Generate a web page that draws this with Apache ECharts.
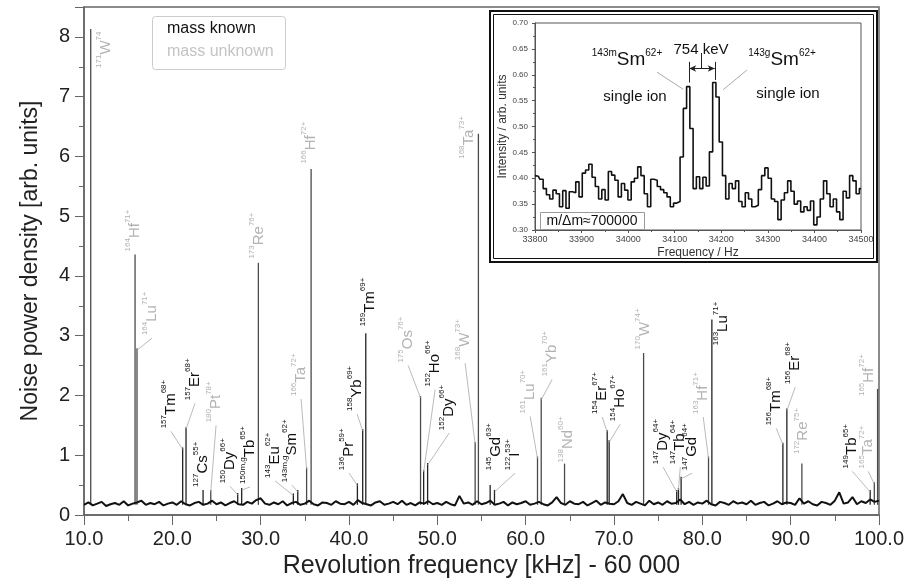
<!DOCTYPE html>
<html lang="en">
<head>
<meta charset="utf-8">
<title>Revolution frequency spectrum</title>
<script src="https://cdn.jsdelivr.net/npm/echarts@6/dist/echarts.min.js"></script>
<style>
  html, body { margin: 0; padding: 0; background: #fff; }
  #main { width: 908px; height: 584px; }
</style>
</head>
<body>
<div id="main"></div>
<script>
var chart = echarts.init(document.getElementById('main'));
var FONT = 'Liberation Sans, Arial, sans-serif';

// noise floor, one reading every 0.5 kHz from 10.0 to 100.0
var noiseStart = 10, noiseStep = 0.5;
var noise = [
  0.17,0.21,0.16,0.19,0.22,0.15,0.18,0.20,0.17,0.23,0.16,0.19,0.21,0.24,0.17,0.20,0.18,0.22,0.16,0.19,
  0.21,0.17,0.23,0.18,0.16,0.20,0.22,0.17,0.19,0.24,0.18,0.21,0.16,0.20,0.23,0.18,0.17,0.22,0.19,0.25,
  0.28,0.19,0.17,0.21,0.18,0.23,0.16,0.20,0.22,0.17,0.19,0.24,0.18,0.16,0.21,0.20,0.17,0.23,0.19,0.18,
  0.22,0.17,0.25,0.20,0.18,0.16,0.21,0.23,0.17,0.19,0.22,0.18,0.24,0.17,0.20,0.16,0.21,0.19,0.23,0.18,
  0.20,0.17,0.22,0.18,0.16,0.32,0.19,0.21,0.17,0.23,0.18,0.20,0.24,0.17,0.19,0.22,0.16,0.21,0.18,0.20,
  0.23,0.17,0.19,0.22,0.18,0.16,0.21,0.30,0.20,0.17,0.23,0.19,0.18,0.22,0.16,0.20,0.24,0.17,0.21,0.19,
  0.18,0.23,0.35,0.20,0.17,0.22,0.19,0.16,0.24,0.18,0.21,0.17,0.23,0.19,0.20,0.26,0.18,0.22,0.17,0.21,
  0.19,0.24,0.18,0.16,0.22,0.20,0.17,0.23,0.19,0.21,0.18,0.24,0.17,0.20,0.22,0.16,0.19,0.23,0.18,0.21,
  0.20,0.17,0.28,0.19,0.23,0.18,0.16,0.22,0.20,0.17,0.24,0.38,0.19,0.21,0.30,0.18,0.23,0.20,0.26,0.22,0.24
];

// identified lines
var peakFreq   = [10.76, 15.78, 16.00, 21.17, 21.55, 23.48, 24.35, 27.40, 27.85, 29.74, 33.70, 34.20, 35.20, 35.71,
                  40.95, 41.55, 41.90, 48.10, 48.45, 48.90, 54.28, 54.65, 55.98, 56.47, 61.34, 61.76, 64.40,
                  69.23, 69.45, 73.35, 77.10, 77.30, 77.60, 80.70, 81.08, 89.12, 89.57, 91.27, 99.00, 99.47, 99.84];
var peakHeight = [8.13, 4.36, 2.79, 1.13, 1.47, 0.42, 0.42, 0.37, 0.45, 4.22, 0.36, 0.42, 0.80, 5.79,
                  0.53, 1.44, 3.04, 1.99, 0.75, 0.87, 1.22, 6.38, 0.50, 0.42, 0.98, 1.96, 0.86,
                  1.42, 1.25, 2.71, 0.42, 0.45, 0.64, 0.98, 3.27, 1.21, 1.78, 0.86, 0.42, 0.55, 2.11];
var peakMass   = ['171','164','164','157','157','127','180','150','150m,g','173','143','143m,g','166','166',
                  '136','158','159','175','152','152','168','168','145','122','161','161','138',
                  '154','154','170','147','147','147','163','163','156','156','172','149','165','165'];
var peakElem   = ['W','Hf','Lu','Tm','Er','Cs','Pt','Dy','Tb','Re','Eu','Sm','Ta','Hf',
                  'Pr','Yb','Tm','Os','Ho','Dy','W','Ta','Gd','I','Lu','Yb','Nd',
                  'Er','Ho','W','Dy','Tb','Gd','Hf','Lu','Tm','Er','Re','Tb','Ta','Hf'];
var peakCharge = ['74','71+','71+','68+','68+','55+','78+','66+','65+','76+','62+','62+','72+','72+',
                  '59+','69+','69+','76+','66+','66+','73+','73+','63+','53+','70+','70+','60+',
                  '67+','67+','74+','64+','64+','64+','71+','71+','68+','68+','75+','65+','72+','72+'];
var peakKnown  = [0,0,0,1,1,1,0,1,1,0,1,1,0,0,
                  1,1,1,0,1,1,0,0,1,1,0,0,0,
                  1,1,0,1,1,1,0,1,1,1,0,1,0,0];

// label anchor (foot of the vertical text, data units) and leader flag
var labelAt = [
  [12.49,7.48,0],[15.78,4.41,0],[17.70,3.01,1],[19.85,1.45,1],[22.57,1.92,1],[23.48,0.47,0],[24.95,1.55,1],
  [26.53,0.53,1],[28.80,0.52,1],[29.74,4.29,0],[31.63,0.62,1],[33.55,0.55,1],[34.58,1.99,1],[35.71,5.88,0],
  [40.00,0.75,1],[40.92,1.74,1],[42.39,3.16,0],[46.70,2.55,1],[49.75,2.15,1],[51.34,1.42,1],[53.15,2.59,1],
  [53.60,5.96,0],[56.66,0.75,0],[58.80,0.75,1],[60.51,1.70,1],[63.00,2.32,1],[64.80,0.88,0],[68.66,1.69,1],
  [70.70,1.57,1],[73.53,2.77,0],[75.57,0.85,1],[77.50,0.85,1],[78.86,0.75,1],[80.10,1.69,1],[82.37,2.84,0],
  [88.37,1.50,1],[90.52,2.19,1],[91.43,1.02,0],[96.98,0.78,1],[98.79,0.78,1],[98.90,1.99,0]
];

// inset: 143Sm doublet, 7 Hz bins starting at 33800 Hz
var insetStart = 33800, insetStep = 7;
var insetValues = [
  0.405,0.404,0.398,0.380,0.368,0.360,0.377,0.370,0.345,0.376,0.342,0.374,0.372,0.393,0.364,0.410,0.416,
  0.427,0.402,0.384,0.360,0.378,0.358,0.413,0.406,0.396,0.364,0.390,0.377,0.358,0.393,0.400,0.422,0.405,
  0.370,0.345,0.398,0.396,0.384,0.378,0.372,0.364,0.345,0.352,0.355,0.441,0.535,0.577,0.496,0.380,0.403,
  0.380,0.402,0.385,0.451,0.585,0.557,0.470,0.405,0.360,0.390,0.380,0.395,0.355,0.345,0.372,0.360,0.345,
  0.348,0.378,0.405,0.420,0.400,0.360,0.355,0.320,0.358,0.372,0.395,0.375,0.350,0.356,0.335,0.345,0.338,
  0.356,0.310,0.325,0.360,0.395,0.370,0.345,0.360,0.335,0.320,0.375,0.362,0.405,0.395,0.370,0.380
];

var LABEL_RICH = {
  m: { fontSize: 8, lineHeight: 10, verticalAlign: 'top', fontFamily: FONT },
  e: { fontSize: 15, lineHeight: 22, fontFamily: FONT },
  c: { fontSize: 8, lineHeight: 10, verticalAlign: 'top', fontFamily: FONT }
};

var noiseData = noise.map(function (v, i) { return [noiseStart + i * noiseStep, v]; });
var peakData = peakFreq.map(function (f, i) { return [f, peakHeight[i], peakKnown[i]]; });
var labelData = labelAt.map(function (p, i) { return [p[0], p[1], peakFreq[i], peakHeight[i], i]; });
var insetData = insetValues.map(function (v, i) { return [insetStart + i * insetStep, v]; });

var axisGray = '#666';

var option = {
  animation: false,
  backgroundColor: '#fff',
  textStyle: { fontFamily: FONT },
  grid: [
    { left: 84, right: 29, top: 7, bottom: 69, show: true, borderColor: axisGray, borderWidth: 1.5, outerBoundsMode: 'none' },
    { left: 535, right: 47, top: 23, bottom: 354, show: true, borderColor: '#555', borderWidth: 1, z: 3, outerBoundsMode: 'none' }
  ],
  xAxis: [{
    gridIndex: 0, type: 'value', min: 10, max: 100, interval: 10,
    name: 'Revolution frequency [kHz] - 60 000', nameLocation: 'middle', nameGap: 38,
    nameTextStyle: { fontSize: 25, color: '#222', fontFamily: FONT },
    axisLine: { show: true, onZero: false, lineStyle: { color: axisGray, width: 1.5 } },
    axisTick: { show: true, length: 10, lineStyle: { color: axisGray } },
    minorTick: { show: true, splitNumber: 2, length: 6, lineStyle: { color: axisGray } },
    axisLabel: { fontSize: 20, color: '#222', margin: 14, formatter: function (v) { return v.toFixed(1); } },
    splitLine: { show: false }
  }, {
    gridIndex: 1, type: 'value', min: 33800, max: 34500, interval: 100, z: 3,
    name: 'Frequency / Hz', nameLocation: 'middle', nameGap: 17,
    nameTextStyle: { fontSize: 12, color: '#333', fontFamily: FONT },
    axisLine: { show: true, onZero: false, lineStyle: { color: '#555' } },
    axisTick: { show: true, length: 3, lineStyle: { color: '#555' } },
    minorTick: { show: true, splitNumber: 2, length: 2, lineStyle: { color: '#555' } },
    axisLabel: { fontSize: 9, color: '#444', margin: 5, formatter: function (v) { return String(v); } },
    splitLine: { show: false }
  }],
  yAxis: [{
    gridIndex: 0, type: 'value', min: 0, max: 8.5, interval: 1,
    name: 'Noise power density [arb. units]', nameLocation: 'middle', nameGap: 42,
    nameTextStyle: { fontSize: 23, color: '#222', fontFamily: FONT },
    axisLine: { show: true, lineStyle: { color: axisGray, width: 1.5 } },
    axisTick: { show: true, length: 9, lineStyle: { color: axisGray } },
    minorTick: { show: true, splitNumber: 2, length: 5, lineStyle: { color: axisGray } },
    axisLabel: { fontSize: 20, color: '#222', margin: 14, formatter: function (v) { return v % 1 === 0 ? String(v) : ''; } },
    splitLine: { show: false }
  }, {
    gridIndex: 1, type: 'value', min: 0.3, max: 0.7, interval: 0.05, z: 3,
    name: 'Intensity / arb. units', nameLocation: 'middle', nameGap: 26,
    nameTextStyle: { fontSize: 12, color: '#333', fontFamily: FONT },
    axisLine: { show: true, lineStyle: { color: '#555' } },
    axisTick: { show: true, length: 3, lineStyle: { color: '#555' } },
    minorTick: { show: true, splitNumber: 2, length: 2, lineStyle: { color: '#555' } },
    axisLabel: { fontSize: 8, color: '#444', margin: 7, formatter: function (v) { return v.toFixed(2); } },
    splitLine: { show: false }
  }],
  graphic: [
    // legend box
    { type: 'rect', z: 1, shape: { x: 152.5, y: 16.5, width: 133, height: 53, r: 3 }, style: { fill: '#fff', stroke: '#ccc', lineWidth: 1 } },
    { type: 'text', z: 2, x: 167, y: 29, style: { text: 'mass known', fill: '#111', font: '16px ' + FONT, verticalAlign: 'middle' } },
    { type: 'text', z: 2, x: 167, y: 52, style: { text: 'mass unknown', fill: '#c4c4c4', font: '16px ' + FONT, verticalAlign: 'middle' } },
    // inset frame
    { type: 'rect', z: 1, shape: { x: 490, y: 11, width: 387, height: 251 }, style: { fill: '#fff', stroke: '#111', lineWidth: 2 } },
    { type: 'rect', z: 1, shape: { x: 493.5, y: 14.5, width: 380, height: 244 }, style: { fill: 'none', stroke: '#111', lineWidth: 1 } },
    // inset annotations
    { type: 'text', z: 6, x: 627, y: 60, style: { text: '{s|143m}{b|Sm}{s|62+}', align: 'center', verticalAlign: 'middle', fill: '#111',
        rich: { s: { fontSize: 10, lineHeight: 12, verticalAlign: 'top', fontFamily: FONT }, b: { fontSize: 19, lineHeight: 24, fontFamily: FONT } } } },
    { type: 'text', z: 6, x: 782, y: 60, style: { text: '{s|143g}{b|Sm}{s|62+}', align: 'center', verticalAlign: 'middle', fill: '#111',
        rich: { s: { fontSize: 10, lineHeight: 12, verticalAlign: 'top', fontFamily: FONT }, b: { fontSize: 19, lineHeight: 24, fontFamily: FONT } } } },
    { type: 'text', z: 6, x: 701, y: 50, style: { text: '754 keV', align: 'center', verticalAlign: 'middle', fill: '#111', font: '15px ' + FONT } },
    { type: 'text', z: 6, x: 635, y: 97, style: { text: 'single ion', align: 'center', verticalAlign: 'middle', fill: '#111', font: '15px ' + FONT } },
    { type: 'text', z: 6, x: 788, y: 94, style: { text: 'single ion', align: 'center', verticalAlign: 'middle', fill: '#111', font: '15px ' + FONT } },
    { type: 'rect', z: 6, shape: { x: 540.5, y: 212.5, width: 104, height: 17 }, style: { fill: '#fff', stroke: '#999', lineWidth: 1 } },
    { type: 'text', z: 7, x: 592, y: 221, style: { text: 'm/\u0394m\u2248700000', align: 'center', verticalAlign: 'middle', fill: '#111', font: '14px ' + FONT } }
  ],
  series: [
    {
      name: 'noise', type: 'line', xAxisIndex: 0, yAxisIndex: 0, z: 4,
      data: noiseData, showSymbol: false, symbol: 'none',
      lineStyle: { color: '#111', width: 2 }
    },
    {
      name: 'peaks', type: 'custom', xAxisIndex: 0, yAxisIndex: 0, z: 3,
      data: peakData, encode: { x: 0, y: 1 },
      renderItem: function (params, api) {
        var top = api.coord([api.value(0), api.value(1)]);
        var bot = api.coord([api.value(0), 0.17]);
        return {
          type: 'line',
          shape: { x1: top[0], y1: top[1], x2: bot[0], y2: bot[1] },
          style: { stroke: api.value(2) ? '#222' : '#4a4a4a', lineWidth: 1.3 }
        };
      }
    },
    {
      name: 'labels', type: 'custom', xAxisIndex: 0, yAxisIndex: 0, z: 5,
      data: labelData, encode: { x: [0, 2], y: [1, 3] },
      renderItem: function (params, api) {
        var i = api.value(4);
        var a = api.coord([api.value(0), api.value(1)]);
        var children = [];
        if (labelAt[i][2]) {
          var p = api.coord([api.value(2), api.value(3)]);
          children.push({
            type: 'line',
            shape: { x1: a[0], y1: a[1] + 3, x2: p[0], y2: p[1] + 2 },
            style: { stroke: '#a8a8a8', lineWidth: 0.8 }
          });
        }
        children.push({
          type: 'text', x: a[0], y: a[1], rotation: Math.PI / 2,
          style: {
            text: '{m|' + peakMass[i] + '}{e|' + peakElem[i] + '}{c|' + peakCharge[i] + '}',
            rich: LABEL_RICH, align: 'left', verticalAlign: 'middle',
            fill: peakKnown[i] ? '#111' : '#b3b3b3'
          }
        });
        return { type: 'group', children: children };
      }
    },
    {
      name: 'inset', type: 'line', xAxisIndex: 1, yAxisIndex: 1, z: 5,
      data: insetData, step: 'middle', showSymbol: false, symbol: 'none',
      lineStyle: { color: '#111', width: 1.6 },
      markLine: {
        silent: true, symbol: 'none', animation: false,
        label: { show: false },
        lineStyle: { color: '#222', width: 1, type: 'solid' },
        data: [
          [{ coord: [34131, 0.612], symbol: 'arrow', symbolSize: [5, 7] }, { coord: [34186, 0.612], symbol: 'arrow', symbolSize: [5, 7] }],
          [{ coord: [34131, 0.585] }, { coord: [34131, 0.625] }],
          [{ coord: [34186, 0.590] }, { coord: [34186, 0.625] }],
          [{ coord: [34158, 0.612] }, { coord: [34158, 0.642] }],
          [{ coord: [34062, 0.605], lineStyle: { color: '#aaa' } }, { coord: [34118, 0.572] }],
          [{ coord: [34255, 0.609], lineStyle: { color: '#aaa' } }, { coord: [34204, 0.571] }]
        ]
      }
    }
  ]
};

chart.setOption(option);
</script>
</body>
</html>
